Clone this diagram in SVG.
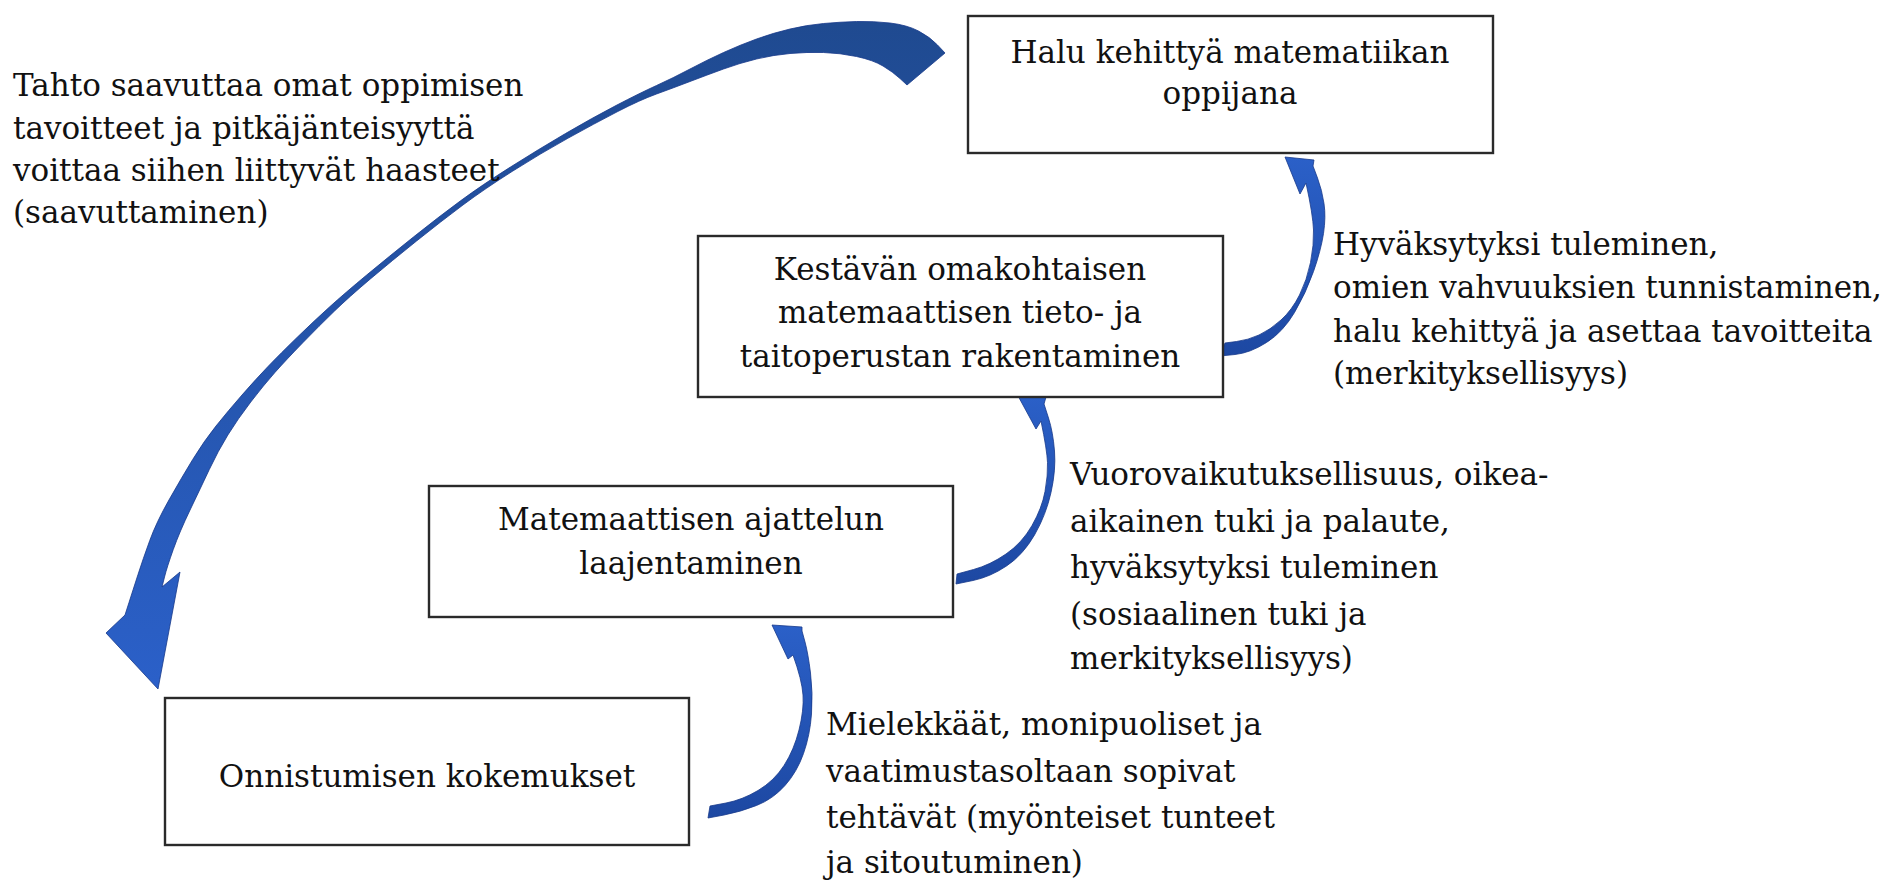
<svg xmlns="http://www.w3.org/2000/svg" width="1892" height="890" viewBox="0 0 1892 890">
<defs>
<style>
.box{fill:#ffffff;stroke:#2a2a2a;stroke-width:2.4}
.t{font-family:"DejaVu Serif","Liberation Serif",serif;font-size:31px;fill:#111111}
.c{text-anchor:middle}
.arrow{stroke:#17398a;stroke-width:0.8;stroke-linejoin:round}
</style>
<linearGradient id="gBig" gradientUnits="userSpaceOnUse" x1="0" y1="20" x2="0" y2="690">
<stop offset="0" stop-color="#1f4a90"/>
<stop offset="1" stop-color="#2b60c9"/>
</linearGradient>
<linearGradient id="gSmall" x1="0" y1="0" x2="0" y2="1">
<stop offset="0" stop-color="#2b60c8"/>
<stop offset="1" stop-color="#1d48a2"/>
</linearGradient>
</defs>
<rect x="0" y="0" width="1892" height="890" fill="#ffffff"/>

<g id="connectors">
<path id="arrow-big" class="arrow" fill="url(#gBig)" d="M 945,53 L 937.5,45 Q 930,37 918.5,31 Q 907,25 890,23 Q 873,21 856.5,21.5 Q 840,22 823.5,23.5 Q 807,25 790,29 Q 773,33 756.5,39 Q 740,45 723.5,52.5 Q 707,60 690,69 Q 673,78 656.5,85.5 Q 640,93 616,105.5 Q 592,118 565.5,133.5 Q 539,149 510.5,167 Q 482,185 460.25,201 Q 438.5,217 413.45,237 Q 388.4,257 366.7,275 Q 345,293 329.75,306.75 Q 314.5,320.5 297.25,337.25 Q 280,354 268,366.5 Q 256,379 242,395 Q 228,411 216,426 Q 204,441 192.7,459.5 Q 181.4,478 168.95,500 Q 156.5,522 149.75,540.5 Q 143,559 138,574.5 Q 133,590 129,602.5 L 125,615 L 106,633 L 158,689 L 180,572 L 162,587 L 164.5,577 Q 167,567 173.25,549.5 Q 179.5,532 190.05,510 Q 200.6,488 209.3,469.5 Q 218,451 227.85,435 Q 237.7,419 250.75,402 Q 263.8,385 274.9,372.5 Q 286,360 302.75,342.75 Q 319.5,325.5 334.25,311.25 Q 349,297 370.3,279 Q 391.6,261 416.55,241 Q 441.5,221 462.95,205 Q 484.4,189 512.85,171 Q 541.3,153 567.85,138.3 Q 594.4,123.6 617.2,111.8 Q 640,100 656.5,94 Q 673,88 690,81.5 Q 707,75 723.5,69 Q 740,63 756.5,59 Q 773,55 790,53.5 Q 807,52 823.5,52.5 Q 840,53 856.5,56.5 Q 873,60 883,66 Q 893,72 900,78.5 L 907,85 Z"/>
<path id="arrow-kest-halu" class="arrow" fill="url(#gSmall)" d="M 1220,356 L 1235,354.5 Q 1250,353 1266.5,342.5 Q 1283,332 1294.5,312.5 Q 1306,293 1313.5,271.5 Q 1321,250 1323.5,233.5 Q 1326,217 1324,203.5 Q 1322,190 1317.5,178 L 1313,166 L 1314,160 L 1285,157 L 1300,194 L 1306,183 Q 1313,215 1313.5,230 Q 1314,245 1310.5,262.5 Q 1307,280 1299.5,295 Q 1292,310 1281,320 Q 1270,330 1259,335 Q 1248,340 1236.5,341.5 L 1225,343 Z"/>
<path id="arrow-mat-kest" class="arrow" fill="url(#gSmall)" d="M 956,584 L 973,580.5 Q 990,577 1006.5,566 Q 1023,555 1034.5,535 Q 1046,515 1051,492.5 Q 1056,470 1054.5,451 Q 1053,432 1048.5,418 L 1044,404 L 1046,397 L 1017,394 L 1036,429 L 1041,421 Q 1047,450 1047.5,462.5 Q 1048,475 1045,491.5 Q 1042,508 1032,525.5 Q 1022,543 1006,554 Q 990,565 973.5,569.5 L 957,574 Z"/>
<path id="arrow-onn-mat" class="arrow" fill="url(#gSmall)" d="M 708,818 L 724,815 Q 740,812 756.5,805.5 Q 773,799 785,785.5 Q 797,772 803.5,753.5 Q 810,735 811.5,714 Q 813,693 810.5,673 Q 808,653 805,642 L 802,631 L 802,627 L 772,625 L 788,659 L 793,655 Q 802,680 803,695 Q 804,710 799,730 Q 794,750 784,765.5 Q 774,781 758,790.5 Q 742,800 726,803 L 710,806 Z"/>
</g>

<g id="node-halu">
<rect class="box" x="968" y="16" width="525" height="137"/>
<text class="t c" x="1230" y="63">Halu kehittyä matematiikan</text>
<text class="t c" x="1230" y="104">oppijana</text>
</g>

<g id="node-kestavan">
<rect class="box" x="698" y="236" width="525" height="161"/>
<text class="t c" x="960" y="280">Kestävän omakohtaisen</text>
<text class="t c" x="960" y="323">matemaattisen tieto- ja</text>
<text class="t c" x="960" y="367">taitoperustan rakentaminen</text>
</g>

<g id="node-matemaattisen">
<rect class="box" x="429" y="486" width="524" height="131"/>
<text class="t c" x="691" y="530">Matemaattisen ajattelun</text>
<text class="t c" x="691" y="574">laajentaminen</text>
</g>

<g id="node-onnistumisen">
<rect class="box" x="165" y="698" width="524" height="147"/>
<text class="t c" x="427" y="787">Onnistumisen kokemukset</text>
</g>

<g id="label-tahto">
<text class="t" x="13" y="96">Tahto saavuttaa omat oppimisen</text>
<text class="t" x="13" y="139">tavoitteet ja pitkäjänteisyyttä</text>
<text class="t" x="13" y="181">voittaa siihen liittyvät haasteet</text>
<text class="t" x="13" y="223">(saavuttaminen)</text>
</g>

<g id="label-hyvaksytyksi">
<text class="t" x="1333" y="255">Hyväksytyksi tuleminen,</text>
<text class="t" x="1333" y="298">omien vahvuuksien tunnistaminen,</text>
<text class="t" x="1333" y="342">halu kehittyä ja asettaa tavoitteita</text>
<text class="t" x="1333" y="384">(merkityksellisyys)</text>
</g>

<g id="label-vuorovaikutus">
<text class="t" x="1070" y="485">Vuorovaikutuksellisuus, oikea-</text>
<text class="t" x="1070" y="532">aikainen tuki ja palaute,</text>
<text class="t" x="1070" y="578">hyväksytyksi tuleminen</text>
<text class="t" x="1070" y="625">(sosiaalinen tuki ja</text>
<text class="t" x="1070" y="669">merkityksellisyys)</text>
</g>

<g id="label-mielekkaat">
<text class="t" x="826" y="735">Mielekkäät, monipuoliset ja</text>
<text class="t" x="826" y="782">vaatimustasoltaan sopivat</text>
<text class="t" x="826" y="828">tehtävät (myönteiset tunteet</text>
<text class="t" x="826" y="873">ja sitoutuminen)</text>
</g>
</svg>
